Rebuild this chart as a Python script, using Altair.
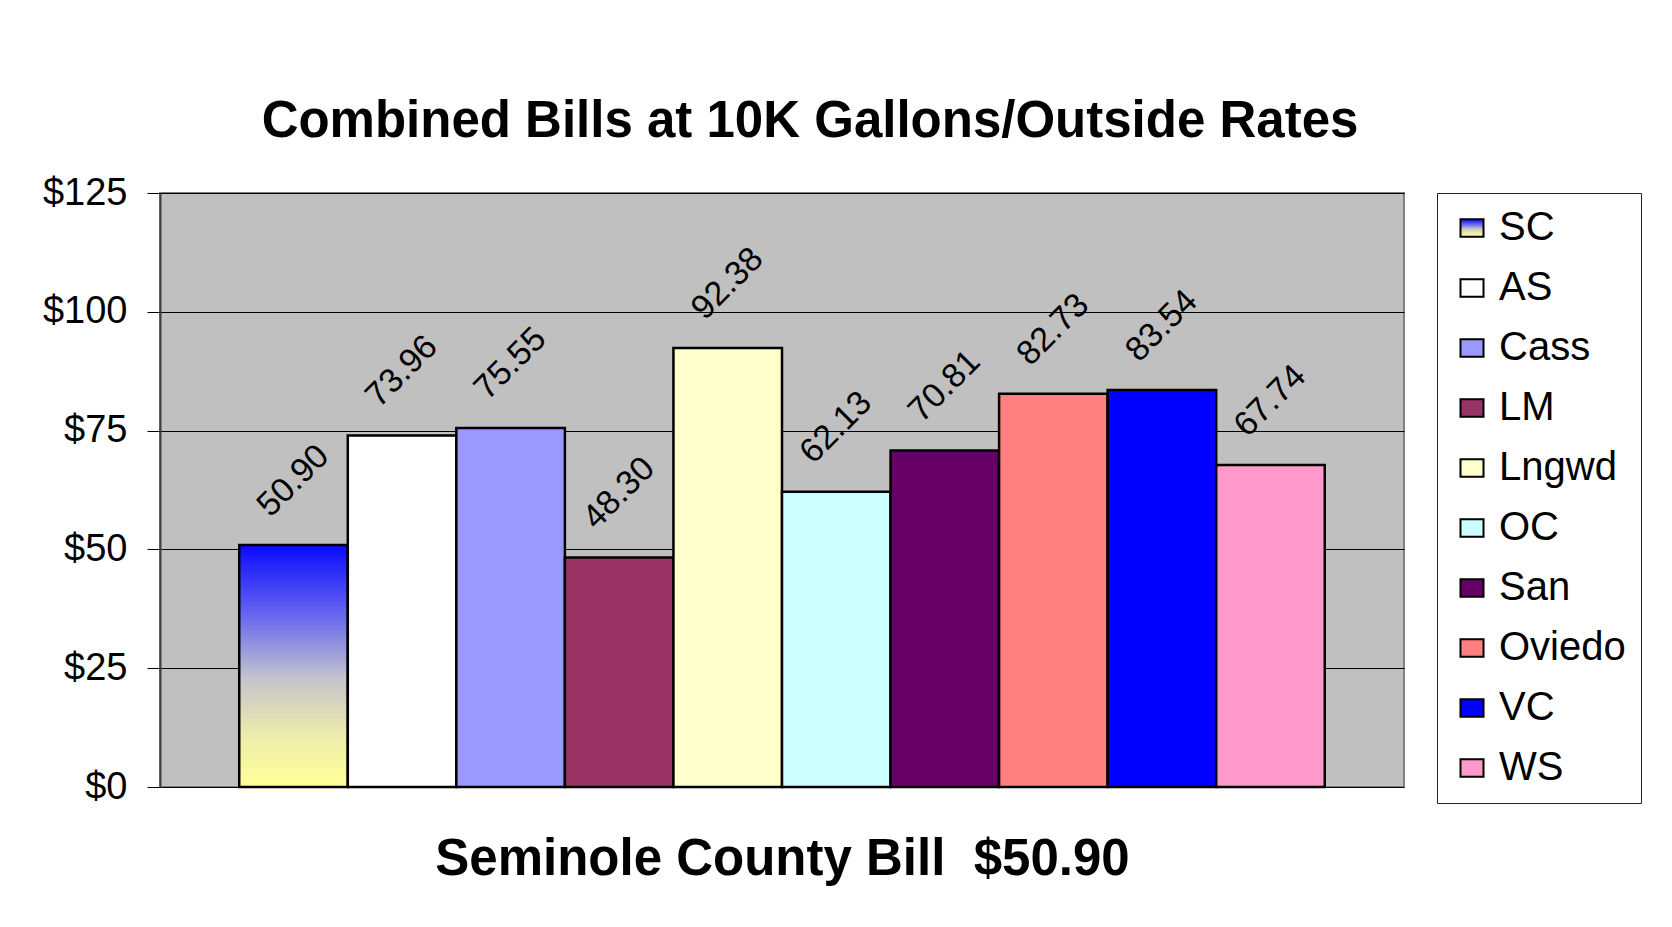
import altair as alt
import pandas as pd

categories = ["SC", "AS", "Cass", "LM", "Lngwd", "OC", "San", "Oviedo", "VC", "WS"]
values = [50.90, 73.96, 75.55, 48.30, 92.38, 62.13, 70.81, 82.73, 83.54, 67.74]
solid_colors = ["#FFFFFF", "#9999FF", "#993366", "#FFFFCC", "#CCFFFF",
                "#660066", "#FF8080", "#0000FF", "#FF99CC"]
y_ticks = [0, 25, 50, 75, 100, 125]

sc_gradient = ("{gradient: 'linear', x1: 0, y1: 0, x2: 0, y2: 1, stops: ["
               "{offset: 0, color: '#0A0AFF'}, {offset: 0.3, color: '#6A6AEE'}, "
               "{offset: 0.55, color: '#C4C4CC'}, {offset: 0.8, color: '#EEEEAA'}, "
               "{offset: 1, color: '#FFFF99'}]}")

df = pd.DataFrame({"cat": categories, "val": values})

FONT = "Liberation Sans, Arial, Helvetica, sans-serif"

x = alt.X("cat:N", sort=categories,
          scale=alt.Scale(paddingInner=0, paddingOuter=0.73),
          axis=alt.Axis(title="Seminole County Bill\u00a0\u00a0$50.90", labels=False, ticks=False,
                        domain=False, titleFontSize=51, titleFontWeight="bold",
                        titleFont=FONT, titleColor="black", titlePadding=87,
                        titleBaseline="alphabetic"))
y = alt.Y("val:Q", scale=alt.Scale(domain=[0, 125], nice=False),
          axis=alt.Axis(title=None, values=y_ticks, format="$d", labelFontSize=38,
                        labelFont=FONT, labelColor="black", labelPadding=20,
                        tickSize=13, tickColor="black", tickWidth=1,
                        domainColor="#404040", domainWidth=2,
                        gridColor="black", gridWidth=1, gridOpacity=1))

bars = alt.Chart(df).mark_bar(stroke="black", strokeWidth=2.5).encode(
    x=x, y=y,
    color=alt.Color("cat:N", sort=categories,
                    scale=alt.Scale(domain=categories,
                                    range=[{"expr": sc_gradient}] + solid_colors),
                    legend=alt.Legend(title=None, orient="none", legendX=1277, legendY=0,
                                      padding=15, symbolOffset=0,
                                      symbolType="M-1,-0.75H1V0.75H-1Z", symbolSize=530,
                                      symbolStrokeColor="black", symbolStrokeWidth=2,
                                      labelFontSize=40, labelFont=FONT, labelColor="black",
                                      labelOffset=7, rowPadding=20,
                                      strokeColor="#222222", fillColor="white",
                                      labelLimit=400))
)

labels = alt.Chart(df).mark_text(angle=315, align="center", baseline="middle",
                                 fontSize=34, font=FONT, color="black", yOffset=-64).encode(
    x=alt.X("cat:N", sort=categories),
    y=alt.Y("val:Q"),
    text=alt.Text("val:Q", format=".2f"),
)

chart = alt.layer(bars, labels).properties(
    width=1244, height=594,
    title=alt.Title("Combined Bills at 10K Gallons/Outside Rates", fontSize=51,
                    fontWeight="bold", font=FONT, color="black", anchor="middle",
                    dx=28, offset=-14, baseline="alphabetic"),
    autosize=alt.AutoSizeParams(type="none"),
    padding={"left": 152, "top": 185, "right": 260, "bottom": 140},
).configure(background="white").configure_view(
    fill="#C0C0C0", stroke="#808080", strokeWidth=2
)

chart.save("out.html", embed_options={"renderer": "svg", "actions": False})
